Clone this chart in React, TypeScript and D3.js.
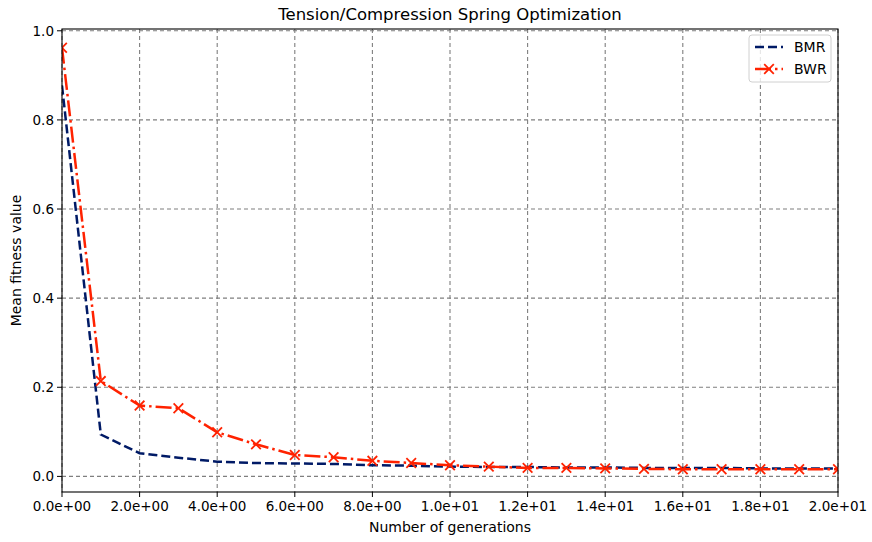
import React from "react";
import * as d3 from "d3";

const generations = [0,1,2,3,4,5,6,7,8,9,10,11,12,13,14,15,16,17,18,19,20];
const bmrValues = [0.877,0.094,0.052,0.042,0.033,0.030,0.029,0.028,0.025,0.024,0.022,0.021,0.021,0.020,0.020,0.019,0.019,0.019,0.018,0.018,0.018];
const bwrValues = [0.962,0.214,0.159,0.153,0.099,0.072,0.048,0.043,0.035,0.030,0.025,0.022,0.019,0.019,0.018,0.017,0.016,0.016,0.016,0.016,0.016];
const xTicks = [0,2,4,6,8,10,12,14,16,18,20];
const yTicks = [0,0.2,0.4,0.6,0.8,1.0];
const seriesNames = ["BMR","BWR"];

const W = 872, H = 542;
const M = { left: 62, right: 838, top: 29, bottom: 492 };

function fmtExp(v: number) {
  const s = v.toExponential(1);
  const [m, e] = s.split("e");
  const sign = e[0];
  const digits = e.slice(1).padStart(2, "0");
  return `${m}e${sign}${digits}`;
}

export default function App() {
  const x = d3.scaleLinear().domain([0, 20]).range([M.left, M.right]);
  const y = d3.scaleLinear().domain([-0.035, 1.004]).range([M.bottom, M.top]);
  const line = d3.line<number>().x((_, i) => x(generations[i])).y((d) => y(d));
  const font = "DejaVu Sans, sans-serif";
  const navy = "#001a66";
  const red = "#ff2200";
  const lw = 2.5;
  const mk = (cx: number, cy: number, k: string) => (
    <g key={k} stroke={red} strokeWidth={1.8}>
      <line x1={cx - 4.8} y1={cy - 4.8} x2={cx + 4.8} y2={cy + 4.8} />
      <line x1={cx - 4.8} y1={cy + 4.8} x2={cx + 4.8} y2={cy - 4.8} />
    </g>
  );
  return (
    <svg width={W} height={H} style={{ position: "absolute", left: 0, top: 0, background: "#fff" }} fontFamily={font}>
      <defs>
        <clipPath id="plot">
          <rect x={M.left} y={M.top} width={M.right - M.left} height={M.bottom - M.top} />
        </clipPath>
      </defs>
      <g stroke="#7f7f7f" strokeWidth={1.1} strokeDasharray="4,3">
        {xTicks.map((t) => (
          <line key={"gx" + t} x1={x(t)} x2={x(t)} y1={M.top} y2={M.bottom} />
        ))}
        {yTicks.map((t) => (
          <line key={"gy" + t} x1={M.left} x2={M.right} y1={y(t)} y2={y(t)} />
        ))}
      </g>
      <g clipPath="url(#plot)" fill="none">
        <path d={line(bmrValues) || ""} stroke={navy} strokeWidth={lw} strokeDasharray="9,4" />
        <path d={line(bwrValues) || ""} stroke={red} strokeWidth={lw} strokeDasharray="16,4,2.5,4" />
        {bwrValues.map((v, i) => mk(x(generations[i]), y(v), "m" + i))}
      </g>
      <rect x={M.left} y={M.top} width={M.right - M.left} height={M.bottom - M.top} fill="none" stroke="#000" strokeWidth={1.1} />
      <g fontSize={13.5} textAnchor="middle" fill="#000">
        {xTicks.map((t) => (
          <g key={"xt" + t}>
            <line x1={x(t)} x2={x(t)} y1={M.bottom} y2={M.bottom + 5} stroke="#000" strokeWidth={1} />
            <text x={x(t)} y={M.bottom + 19}>{fmtExp(t)}</text>
          </g>
        ))}
      </g>
      <g fontSize={13.5} textAnchor="end" fill="#000">
        {yTicks.map((t) => (
          <g key={"yt" + t}>
            <line x1={M.left - 5} x2={M.left} y1={y(t)} y2={y(t)} stroke="#000" strokeWidth={1} />
            <text x={M.left - 8} y={y(t) + 5}>{t.toFixed(1)}</text>
          </g>
        ))}
      </g>
      <text x={(M.left + M.right) / 2} y={532} fontSize={14} textAnchor="middle">Number of generations</text>
      <text transform={`translate(21,${(M.top + M.bottom) / 2}) rotate(-90)`} fontSize={14} textAnchor="middle">Mean fitness value</text>
      <text x={(M.left + M.right) / 2} y={20} fontSize={16.5} textAnchor="middle">Tension/Compression Spring Optimization</text>
      <g>
        <rect x={749} y={35} width={82} height={47} rx={3} fill="#fff" fillOpacity={0.8} stroke="#d0d0d0" strokeWidth={1} />
        <line x1={755} x2={783} y1={47} y2={47} stroke={navy} strokeWidth={lw} strokeDasharray="9,4" />
        <line x1={755} x2={783} y1={69} y2={69} stroke={red} strokeWidth={lw} strokeDasharray="16,4,2.5,4" />
        {mk(769, 69, "lg")}
        <text x={794} y={52} fontSize={14}>{seriesNames[0]}</text>
        <text x={794} y={74} fontSize={14}>{seriesNames[1]}</text>
      </g>
    </svg>
  );
}
